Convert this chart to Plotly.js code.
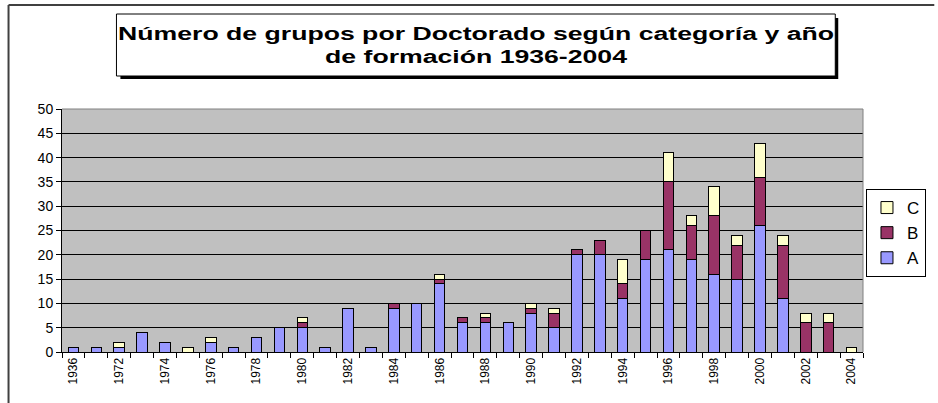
<!DOCTYPE html>
<html>
<head>
<meta charset="utf-8">
<script src="https://cdn.plot.ly/plotly-3.0.1.min.js"></script>
<style>
html,body{margin:0;padding:0;background:#fff;}
#chart{width:938px;height:403px;}
#chart .annotation-text{transform:scaleX(1.48);transform-box:fill-box;transform-origin:50% 50%;}
</style>
</head>
<body>
<div id="chart"></div>
<script>
const years = ["1936","1970","1972","1973","1974","1975","1976","1977","1978","1979","1980","1981","1982","1983","1984","1985","1986","1987","1988","1989","1990","1991","1992","1993","1994","1995","1996","1997","1998","1999","2000","2001","2002","2003","2004"];
const catA = [1,1,1,4,2,0,2,1,3,5,5,1,9,1,9,10,14,6,6,6,8,5,20,20,11,19,21,19,16,15,26,11,0,0,0];
const catB = [0,0,0,0,0,0,0,0,0,0,1,0,0,0,1,0,1,1,1,0,1,3,1,3,3,6,14,7,12,7,10,11,6,6,0];
const catC = [0,0,1,0,0,1,1,0,0,0,1,0,0,0,0,0,1,0,1,0,1,1,0,0,5,0,6,2,6,2,7,2,2,2,1];
const tickLabels = years.map((y, i) => (i % 2 === 0 ? y : ""));
const titleText = "Número de grupos por Doctorado según categoría y año<br>de formación 1936-2004";

const L = 62, R = 871, T = 109, B = 352;
const W = 938, H = 403;
const px = x => (x - L) / (R - L);
const py = y => (B - y) / (B - T);

function bar(name, vals, color) {
  return {type: 'bar', name: name, x: years, y: vals, marker: {color: color, line: {color: '#000', width: 1}}, hoverinfo: 'x+y+name'};
}
const data = [bar('A', catA, '#9999FF'), bar('B', catB, '#993366'), bar('C', catC, '#FFFFCC')];

const layout = {
  width: W, height: H,
  margin: {l: L, r: W - R, t: T, b: H - B, pad: 0},
  paper_bgcolor: '#fff', plot_bgcolor: '#C0C0C0',
  barmode: 'stack', bargap: 0.54,
  font: {family: 'Liberation Sans, Arial, sans-serif', color: '#000'},
  showlegend: true,
  legend: {traceorder: 'reversed', x: px(874), xanchor: 'left', y: py(189), yanchor: 'top',
           bgcolor: '#fff', bordercolor: '#000', borderwidth: 1, font: {size: 17}, itemwidth: 30, tracegroupgap: 0},
  xaxis: {type: 'category', tickmode: 'array', tickvals: years, ticktext: tickLabels, tickson: 'boundaries',
          ticks: 'outside', ticklen: 5, tickcolor: '#000', tickangle: -90, tickfont: {size: 12},
          showline: true, linecolor: '#000', linewidth: 1, showgrid: false, zeroline: false, fixedrange: true},
  yaxis: {range: [0, 50], dtick: 5, tick0: 0, ticks: 'outside', ticklen: 5, tickcolor: '#000',
          tickfont: {size: 14}, showline: true, linecolor: '#000', linewidth: 1,
          showgrid: true, gridcolor: '#000', gridwidth: 1, zeroline: false, fixedrange: true},
  shapes: [
    {type: 'line', xref: 'paper', yref: 'paper', x0: px(R), x1: px(R), y0: 0, y1: 1, line: {color: '#808080', width: 1}},
    {type: 'line', xref: 'paper', yref: 'paper', x0: 0, x1: px(R), y0: 1, y1: 1, line: {color: '#808080', width: 1}},
    {type: 'line', xref: 'paper', yref: 'paper', x0: px(8), x1: px(W + 5), y0: py(5), y1: py(5), line: {color: '#404040', width: 2}},
    {type: 'line', xref: 'paper', yref: 'paper', x0: px(8), x1: px(8), y0: py(5), y1: py(H + 5), line: {color: '#404040', width: 2}},
    {type: 'rect', xref: 'paper', yref: 'paper', x0: px(121), x1: px(846), y0: py(18), y1: py(79), fillcolor: '#000', line: {width: 0}},
    {type: 'rect', xref: 'paper', yref: 'paper', x0: px(117), x1: px(843), y0: py(14), y1: py(76), fillcolor: '#fff', line: {color: '#000', width: 1}}
  ],
  annotations: [
    {xref: 'paper', yref: 'paper', x: px(480), y: py(45), xanchor: 'center', yanchor: 'middle', showarrow: false,
     text: '<b>' + titleText + '</b>', font: {size: 18, color: '#000'}}
  ]
};

Plotly.newPlot('chart', data, layout, {displayModeBar: false, staticPlot: true});
</script>
</body>
</html>
